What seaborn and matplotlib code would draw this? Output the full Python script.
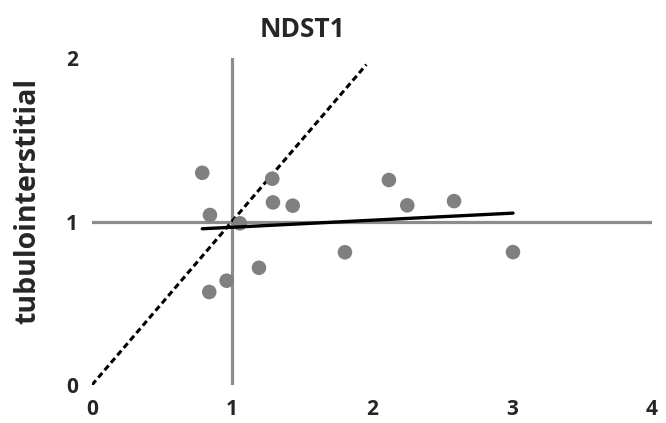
import numpy as np
import pandas as pd
import matplotlib
matplotlib.use("Agg")
import matplotlib.pyplot as plt
import seaborn as sns

# Data
glomerular = [0.788, 1.288, 2.121, 1.293, 1.434, 2.252, 2.586, 0.843, 1.057,
              1.807, 1.193, 0.962, 0.838, 3.007]
tubulointerstitial = [1.298, 1.262, 1.254, 1.117, 1.097, 1.099, 1.125, 1.040, 0.989,
                      0.812, 0.717, 0.638, 0.569, 0.813]
identity_x = [0, 1.96]
x_ticks = [0, 1, 2, 3, 4]
y_ticks = [0, 1, 2]
title = "NDST1"
ylabel = "tubulointerstitial"

df = pd.DataFrame({"x": glomerular, "y": tubulointerstitial})

sns.set_theme(style="white")
plt.rcParams["font.family"] = ["Open Sans", "DejaVu Sans"]

fig = plt.figure(figsize=(6.66, 4.23), dpi=100)
ax = fig.add_axes([0.138, 0.0898, 0.841, 0.773])

# crossing "axes" at 1,1
ax.axvline(1, ymin=0, ymax=1, color="#8c8c8c", lw=2.3, zorder=1)
ax.axhline(1, xmin=0, xmax=1, color="#8c8c8c", lw=2.3, zorder=1)

# identity line
sns.lineplot(x=identity_x, y=identity_x, ax=ax, color="black", lw=2.2,
             linestyle=(0, (2.0, 1.2)), zorder=2)

sns.regplot(data=df, x="x", y="y", ax=ax, ci=None, truncate=True,
            scatter_kws=dict(s=110, color="#808080", edgecolor="none", alpha=1, zorder=3),
            line_kws=dict(color="black", lw=2.4, zorder=4))

ax.set_xlim(0, 4)
ax.set_ylim(0, 2)
ax.set_xticks(x_ticks)
ax.set_yticks(y_ticks)
ax.set_xticklabels([str(v) for v in x_ticks], fontsize=15, fontweight="bold")
ax.set_yticklabels([str(v) for v in y_ticks], fontsize=15, fontweight="bold")
ax.tick_params(axis="both", length=0)
ax.tick_params(axis="x", pad=10)
ax.tick_params(axis="y", pad=10)
for s in ax.spines.values():
    s.set_visible(False)
ax.set_xlabel("")
ax.set_ylabel(ylabel, fontsize=20.5, fontweight="bold")
ax.yaxis.set_label_coords(-0.089, 0.563)
ax.set_title(title, fontsize=19, fontweight="bold", pad=15, x=0.375)
ax.grid(False)

fig.savefig("out.png", dpi=100)
